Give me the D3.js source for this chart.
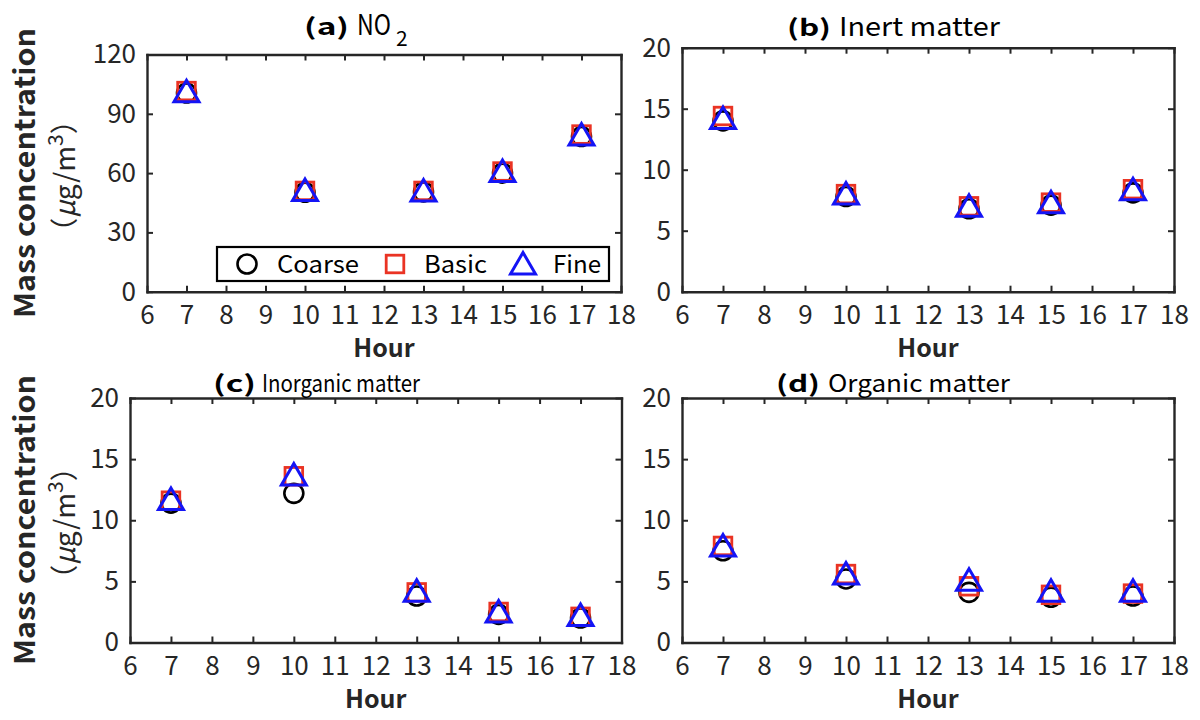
<!DOCTYPE html>
<html><head><meta charset="utf-8">
<script src="https://cdn.jsdelivr.net/npm/d3@7"></script>
<style>body{margin:0;background:#fff} svg{display:block}</style>
</head><body>
<svg id="chart" width="1200" height="720"></svg>
<script>
// ---------- data ----------
const hours = [7, 10, 13, 15, 17];
const hourTicks = [6, 7, 8, 9, 10, 11, 12, 13, 14, 15, 16, 17, 18];
const no2Ticks = [0, 30, 60, 90, 120];
const pmTicks = [0, 5, 10, 15, 20];
const seriesNames = ["Coarse", "Basic", "Fine"];

const no2Coarse = [100.5, 50.3, 50.5, 60.0, 78.5];
const no2Basic  = [101.5, 51.0, 51.0, 60.8, 79.5];
const no2Fine   = [101.2, 51.2, 51.0, 60.8, 79.3];

const inertCoarse = [14.0, 7.8, 6.8, 7.1, 8.1];
const inertBasic  = [14.4, 8.0, 7.0, 7.3, 8.4];
const inertFine   = [14.2, 8.0, 7.0, 7.3, 8.35];

const inorgCoarse = [11.4, 12.2, 3.8, 2.3, 2.0];
const inorgBasic  = [11.6, 13.6, 4.1, 2.5, 2.1];
const inorgFine   = [11.7, 13.7, 4.2, 2.5, 2.2];

const orgCoarse = [7.5, 5.2, 4.1, 3.7, 3.8];
const orgBasic  = [7.9, 5.6, 4.6, 3.9, 4.0];
const orgFine   = [7.9, 5.6, 5.1, 4.2, 4.2];

const titleTags  = ["(a)", "(b)", "(c)", "(d)"];
const titleNames = ["NO", "Inert matter", "Inorganic matter", "Organic matter"];

// ---------- layout / style ----------
const FONT = "'Noto Sans CJK JP', 'Noto Sans', sans-serif";
const AX = "#262626";
const RED = "#ea3323";
const BLUE = "#1414f5";

const panels = [
  {coarse: no2Coarse, basic: no2Basic, fine: no2Fine, yMax: 120, yTicks: no2Ticks,
   x0: 147, x1: 621, y0: 54.5, y1: 291.7,
   tag: {x: 304, w: 45, y: 35, size: 23}, name: {x: 357, w: 34, y: 35, size: 28}, sub: "2", legend: true},
  {coarse: inertCoarse, basic: inertBasic, fine: inertFine, yMax: 20, yTicks: pmTicks,
   x0: 682, x1: 1174, y0: 47.7, y1: 291.7,
   tag: {x: 787, w: 44, y: 36, size: 23}, name: {x: 839, w: 161, y: 36, size: 26}},
  {coarse: inorgCoarse, basic: inorgBasic, fine: inorgFine, yMax: 20, yTicks: pmTicks,
   x0: 130, x1: 621.5, y0: 398, y1: 642.5,
   tag: {x: 213, w: 43, y: 392, size: 23}, name: {x: 262, w: 158, y: 392, size: 24}},
  {coarse: orgCoarse, basic: orgBasic, fine: orgFine, yMax: 20, yTicks: pmTicks,
   x0: 682, x1: 1174, y0: 398, y1: 642.5,
   tag: {x: 776, w: 44, y: 392, size: 23}, name: {x: 828, w: 182, y: 392, size: 24}}
];

const svg = d3.select("#chart");

function triPath(cx, cy) {
  return `M${cx},${cy - 11.5}L${cx + 12.5},${cy + 10}L${cx - 12.5},${cy + 10}Z`;
}

function styleAxis(g) {
  g.select(".domain").attr("stroke", AX).attr("stroke-width", 2.4);
  g.selectAll(".tick line").attr("stroke", AX).attr("stroke-width", 2);
  g.selectAll(".tick text").attr("fill", AX).attr("font-family", FONT).attr("font-size", 26);
}

panels.forEach((p, i) => {
  const x = d3.scaleLinear().domain([6, 18]).range([p.x0, p.x1]);
  const y = d3.scaleLinear().domain([0, p.yMax]).range([p.y1, p.y0]);
  const g = svg.append("g");

  g.append("g").attr("transform", `translate(0,${p.y1})`)
    .call(d3.axisBottom(x).tickValues(hourTicks).tickSize(-6).tickSizeOuter(0).tickPadding(14))
    .call(styleAxis);
  g.append("g").attr("transform", `translate(0,${p.y0})`)
    .call(d3.axisTop(x).tickValues(hourTicks).tickSize(-6).tickSizeOuter(0).tickFormat(""))
    .call(styleAxis);
  g.append("g").attr("transform", `translate(${p.x0},0)`)
    .call(d3.axisLeft(y).tickValues(p.yTicks).tickSize(-6).tickSizeOuter(0).tickPadding(11))
    .call(styleAxis);
  g.append("g").attr("transform", `translate(${p.x1},0)`)
    .call(d3.axisRight(y).tickValues(p.yTicks).tickSize(-6).tickSizeOuter(0).tickFormat(""))
    .call(styleAxis);
  g.selectAll(".domain").attr("stroke-linecap", "square");

  // markers
  g.append("g").selectAll("circle").data(hours).join("circle")
    .attr("cx", (d) => x(d)).attr("cy", (d, j) => y(p.coarse[j])).attr("r", 9.5)
    .attr("fill", "none").attr("stroke", "#000").attr("stroke-width", 2.6);
  g.append("g").selectAll("rect").data(hours).join("rect")
    .attr("x", (d) => x(d) - 8.8).attr("y", (d, j) => y(p.basic[j]) - 8.8)
    .attr("width", 17.6).attr("height", 17.6)
    .attr("fill", "none").attr("stroke", RED).attr("stroke-width", 2.8);
  g.append("g").selectAll("path").data(hours).join("path")
    .attr("d", (d, j) => triPath(x(d), y(p.fine[j])))
    .attr("fill", "none").attr("stroke", BLUE).attr("stroke-width", 3).attr("stroke-linejoin", "miter");

  // x label
  g.append("text").attr("x", (p.x0 + p.x1) / 2).attr("y", p.y1 + 65)
    .attr("text-anchor", "middle").attr("font-family", FONT).attr("font-weight", "bold")
    .attr("font-size", 25).attr("fill", AX).text("Hour");

  // title
  g.append("text").attr("x", p.tag.x).attr("y", p.tag.y)
    .attr("font-family", FONT).attr("font-weight", "bold").attr("font-size", p.tag.size)
    .attr("textLength", p.tag.w).attr("lengthAdjust", "spacingAndGlyphs")
    .attr("fill", "#000").text(titleTags[i]);
  g.append("text").attr("x", p.name.x).attr("y", p.name.y)
    .attr("font-family", FONT).attr("font-size", p.name.size)
    .attr("textLength", p.name.w).attr("lengthAdjust", "spacingAndGlyphs")
    .attr("fill", "#000").text(titleNames[i]);
  if (p.sub) {
    g.append("text").attr("x", p.name.x + p.name.w + 5).attr("y", p.name.y + 11)
      .attr("font-family", FONT).attr("font-size", 21).attr("fill", "#000").text(p.sub);
  }

  // legend
  if (p.legend) {
    const lg = g.append("g");
    lg.append("rect").attr("x", 217).attr("y", 247).attr("width", 392).attr("height", 34)
      .attr("fill", "#fff").attr("stroke", "#000").attr("stroke-width", 2.2);
    const cy = 264;
    lg.append("circle").attr("cx", 247).attr("cy", cy).attr("r", 9.5)
      .attr("fill", "none").attr("stroke", "#000").attr("stroke-width", 2.6);
    lg.append("rect").attr("x", 395 - 8.8).attr("y", cy - 8.8).attr("width", 17.6).attr("height", 17.6)
      .attr("fill", "none").attr("stroke", RED).attr("stroke-width", 2.8);
    lg.append("path").attr("d", triPath(523, cy)).attr("fill", "none")
      .attr("stroke", BLUE).attr("stroke-width", 3);
    const lx = [277, 424, 553];
    const lw = [82, 63, 48];
    seriesNames.forEach((s, k) => {
      lg.append("text").attr("x", lx[k]).attr("y", cy + 9)
        .attr("font-family", FONT).attr("font-size", 24).attr("fill", "#000")
        .attr("textLength", lw[k]).attr("lengthAdjust", "spacingAndGlyphs").text(s);
    });
  }
});

// y labels (left column)
[173, 520].forEach((cy) => {
  svg.append("text")
    .attr("transform", `translate(35,${cy}) rotate(-90)`)
    .attr("text-anchor", "middle").attr("font-family", FONT).attr("font-weight", "bold")
    .attr("font-size", 28).attr("fill", AX)
    .attr("textLength", 290).attr("lengthAdjust", "spacingAndGlyphs")
    .text("Mass concentration");
  const t2 = svg.append("text")
    .attr("transform", `translate(75,${cy + 3}) rotate(-90)`)
    .attr("text-anchor", "middle").attr("font-family", FONT)
    .attr("font-size", 28).attr("fill", AX);
  t2.append("tspan").text("（");
  t2.append("tspan").attr("font-style", "italic").text("μ");
  t2.append("tspan").text("g/m");
  t2.append("tspan").attr("dy", -12).attr("font-size", 21).text("3");
  t2.append("tspan").attr("dy", 12).text("）");
});
</script>
</body></html>
